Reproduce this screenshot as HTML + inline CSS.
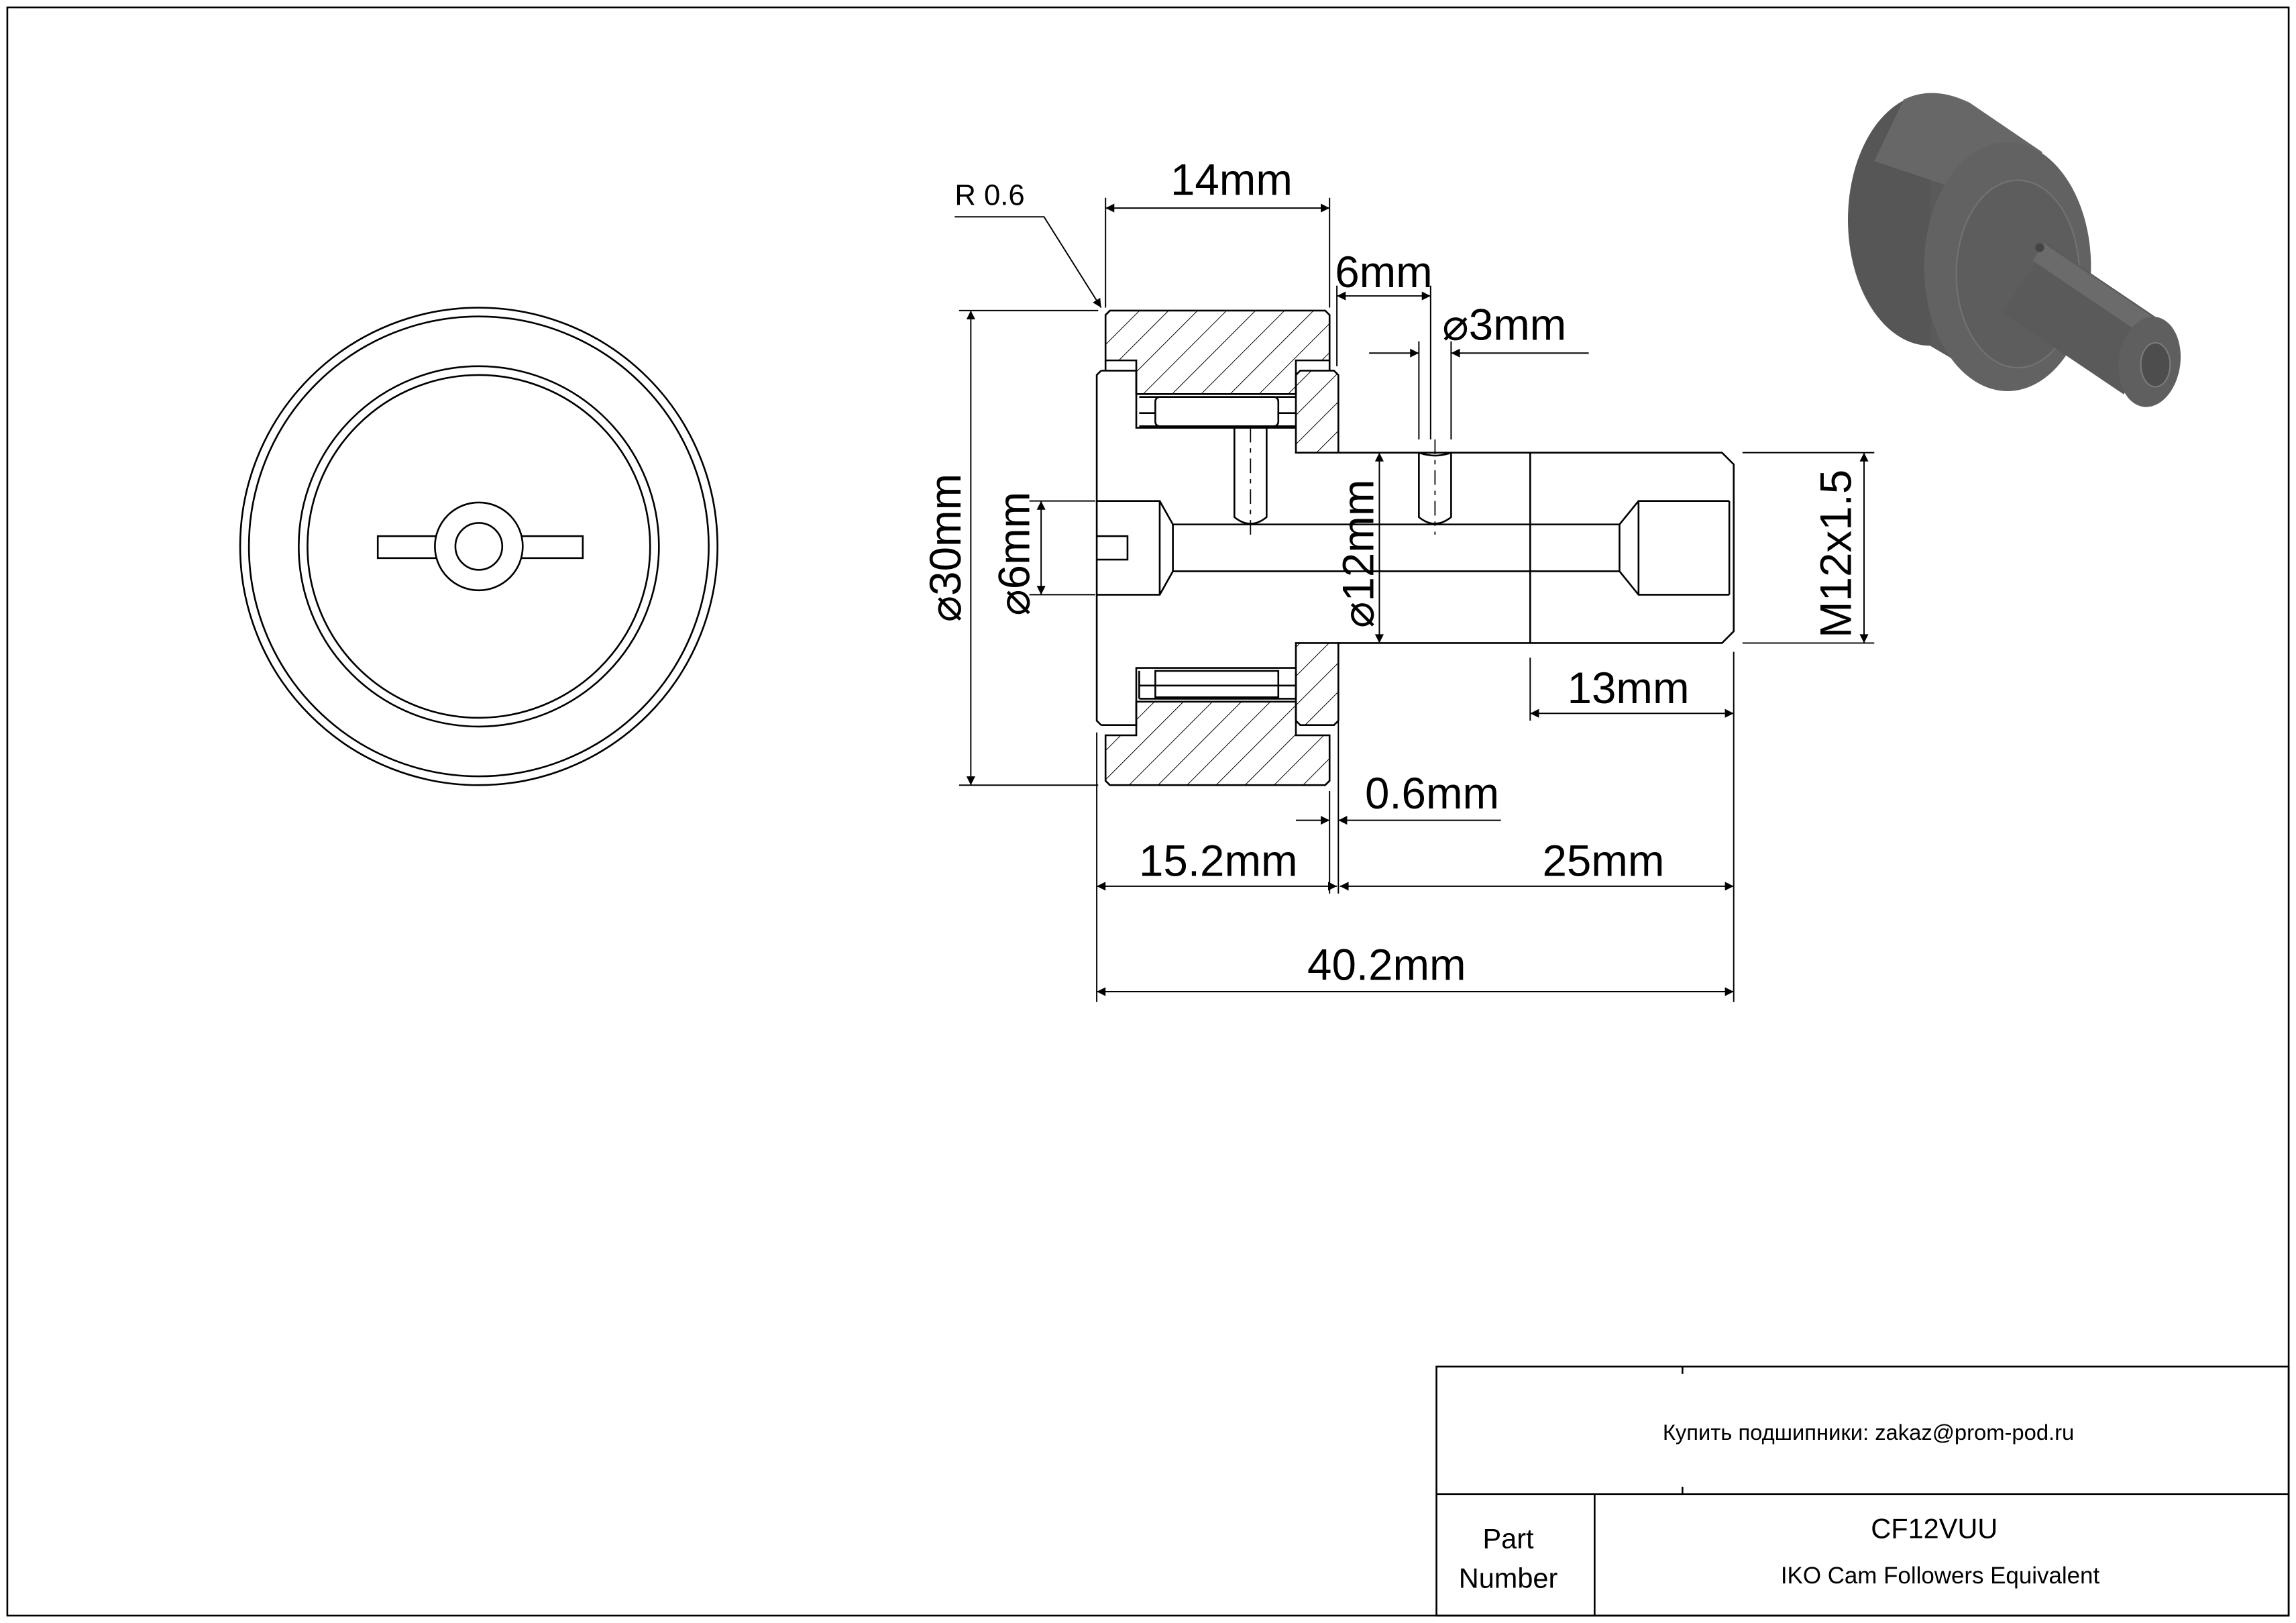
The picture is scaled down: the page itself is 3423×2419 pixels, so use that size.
<!DOCTYPE html>
<html><head><meta charset="utf-8"><style>
html,body{margin:0;padding:0;background:#fff}
svg{display:block}
text{font-family:"Liberation Sans",sans-serif;fill:#000}
</style></head><body>
<svg width="3423" height="2419" viewBox="0 0 1568 1108" xmlns="http://www.w3.org/2000/svg">
<defs>
<pattern id="h" patternUnits="userSpaceOnUse" width="14" height="14" patternTransform="rotate(45)">
<line x1="0" y1="0" x2="0" y2="14" stroke="#000" stroke-width="0.9"/>
</pattern>
<marker id="a" viewBox="0 0 10 10" refX="10" refY="5" markerWidth="14" markerHeight="6" markerUnits="userSpaceOnUse" orient="auto-start-reverse">
<path d="M0,0 L10,5 L0,10 z" fill="#000"/>
</marker>
</defs>
<g fill="none" stroke="#000" stroke-width="1.2">
<rect x="5" y="5" width="1558" height="1098"/>
<rect x="981" y="933" width="582" height="170"/>
<line x1="981" y1="1020" x2="1563" y2="1020"/>
<line x1="1089" y1="1020" x2="1089" y2="1103"/>
<line x1="1149" y1="933" x2="1149" y2="938"/>
<line x1="1149" y1="1015" x2="1149" y2="1020"/>

<circle cx="327" cy="373" r="163"/>
<circle cx="327" cy="373" r="157"/>
<circle cx="327" cy="373" r="123"/>
<circle cx="327" cy="373" r="117"/>
<path d="M298,366 L258,366 L258,381 L298,381 M356,366 L398,366 L398,381 L356,381"/>
<circle cx="327" cy="373" r="30"/>
<circle cx="327" cy="373" r="16"/>
</g>

<g stroke="#000" stroke-width="1.2">
<path d="M758,212 L905,212 L908,215 L908,246 L885,246 L885,269 L776,269 L776,246 L755,246 L755,215 Z" fill="url(#h)"/>
<path d="M755,246 L755,253 M908,246 L908,253" fill="none"/>
<path d="M758,536 L905,536 L908,533 L908,502 L885,502 L885,479 L776,479 L776,502 L755,502 L755,533 Z" fill="url(#h)"/>
<path d="M888,253 L911,253 L914,256 L914,309 L885,309 L885,256 Z" fill="url(#h)"/>
<path d="M888,495 L911,495 L914,492 L914,439 L885,439 L885,492 Z" fill="url(#h)"/>
</g>
<g fill="none" stroke="#000" stroke-width="1.2">
<path d="M752,253 L776,253 L776,292 L885,292 M776,292 L776,269"/>
<path d="M752,495 L776,495 L776,456 L885,456"/>
<path d="M752,253 L749,256 L749,492 L752,495"/>
<path d="M914,309 L1176,309 L1184,317 L1184,431 L1176,439 L914,439"/>
<line x1="1045" y1="309" x2="1045" y2="439"/>
<rect x="789" y="271" width="84" height="20" rx="3"/>
<path d="M778,271 L885,271 M778,282 L789,282 M873,282 L885,282 M778,291 L885,291"/>
<rect x="789" y="458" width="84" height="18" rx="0"/>
<path d="M778,468 L885,468 M778,458 L778,477 M885,458 L885,477 M778,477 L885,477"/>
<path d="M749,342 L792,342 L801,358 L1106,358 L1119,342 L1181,342"/>
<path d="M749,406 L792,406 L801,390 L1106,390 L1119,406 L1181,406"/>
<path d="M801,358 L801,390 M1106,358 L1106,390 M1119,342 L1119,406 M1181,342 L1181,406 M792,342 L792,406"/>
<path d="M749,366 L770,366 L770,382 L749,382"/>
<path d="M843,292 L843,353 Q854,362 865,353 L865,292"/>
<line x1="854" y1="292" x2="854" y2="365" stroke-dasharray="10,4,3,4" stroke-width="0.8"/>
<path d="M969,309 L969,353 Q980,362 991,353 L991,309 M969,309 Q980,313 991,309"/>
<line x1="980" y1="300" x2="980" y2="365" stroke-dasharray="10,4,3,4" stroke-width="0.8"/>
</g>

<g fill="none" stroke="#000" stroke-width="0.9">
<line x1="755" y1="135" x2="755" y2="210"/><line x1="908" y1="135" x2="908" y2="210"/>
<line x1="755" y1="142" x2="908" y2="142" marker-start="url(#a)" marker-end="url(#a)"/>
<path d="M652,148 L713,148 L752,210" marker-end="url(#a)"/>
<line x1="913" y1="195" x2="913" y2="250"/><line x1="977" y1="195" x2="977" y2="300"/>
<line x1="913" y1="202" x2="977" y2="202" marker-start="url(#a)" marker-end="url(#a)"/>
<line x1="969" y1="233" x2="969" y2="300"/><line x1="991" y1="233" x2="991" y2="300"/>
<line x1="935" y1="241" x2="969" y2="241" marker-end="url(#a)"/>
<line x1="1085" y1="241" x2="991" y2="241" marker-end="url(#a)"/>
<line x1="655" y1="212" x2="750" y2="212"/><line x1="655" y1="536" x2="750" y2="536"/>
<line x1="663" y1="212" x2="663" y2="536" marker-start="url(#a)" marker-end="url(#a)"/>
<line x1="703" y1="342" x2="748" y2="342"/><line x1="703" y1="406" x2="748" y2="406"/>
<line x1="711" y1="342" x2="711" y2="406" marker-start="url(#a)" marker-end="url(#a)"/>
<line x1="942" y1="309" x2="942" y2="439" marker-start="url(#a)" marker-end="url(#a)"/>
<line x1="1190" y1="309" x2="1280" y2="309"/><line x1="1190" y1="439" x2="1280" y2="439"/>
<line x1="1273" y1="309" x2="1273" y2="439" marker-start="url(#a)" marker-end="url(#a)"/>
<line x1="1045" y1="449" x2="1045" y2="492"/>
<line x1="1184" y1="445" x2="1184" y2="684"/>
<line x1="1045" y1="487" x2="1184" y2="487" marker-start="url(#a)" marker-end="url(#a)"/>
<line x1="908" y1="540" x2="908" y2="610"/><line x1="914" y1="445" x2="914" y2="610"/>
<line x1="885" y1="560" x2="908" y2="560" marker-end="url(#a)"/>
<line x1="1025" y1="560" x2="914" y2="560" marker-end="url(#a)"/>
<line x1="749" y1="500" x2="749" y2="684"/>
<line x1="749" y1="605" x2="913" y2="605" marker-start="url(#a)" marker-end="url(#a)"/>
<line x1="915" y1="605" x2="1184" y2="605" marker-start="url(#a)" marker-end="url(#a)"/>
<line x1="749" y1="677" x2="1184" y2="677" marker-start="url(#a)" marker-end="url(#a)"/>
</g>

<g font-size="30">
<text x="841" y="133" text-anchor="middle">14mm</text>
<text x="652" y="140" font-size="20">R 0.6</text>
<text x="945" y="196" text-anchor="middle">6mm</text>
<text x="985" y="232">⌀3mm</text>
<text transform="translate(656,374) rotate(-90)" text-anchor="middle">⌀30mm</text>
<text transform="translate(703,378) rotate(-90)" text-anchor="middle">⌀6mm</text>
<text transform="translate(938,378) rotate(-90)" text-anchor="middle">⌀12mm</text>
<text transform="translate(1264,378) rotate(-90)" text-anchor="middle">M12x1.5</text>
<text x="1112" y="480" text-anchor="middle">13mm</text>
<text x="978" y="552" text-anchor="middle">0.6mm</text>
<text x="832" y="598" text-anchor="middle">15.2mm</text>
<text x="1095" y="598" text-anchor="middle">25mm</text>
<text x="947" y="669" text-anchor="middle">40.2mm</text>
</g>

<text x="1276" y="983" font-size="15" text-anchor="middle" font-family="Liberation Sans, DejaVu Sans, sans-serif">Купить подшипники: zakaz@prom-pod.ru</text>
<text x="1030" y="1057" font-size="19" text-anchor="middle">Part</text>
<text x="1030" y="1084" font-size="19" text-anchor="middle">Number</text>
<text x="1321" y="1050" font-size="19" text-anchor="middle">CF12VUU</text>
<text x="1325" y="1081" font-size="16" text-anchor="middle">IKO Cam Followers Equivalent</text>

<!-- 3D render -->
<g>
<ellipse cx="1318" cy="150" rx="56" ry="86" fill="#565656"/>
<path d="M1318,64 L1371,97 L1371,267 L1318,236 Z" fill="#5a5a5a"/>
<path d="M1300,68 Q1320,58 1345,70 L1395,104 L1340,130 L1280,110 Z" fill="#676767"/>
<ellipse cx="1371" cy="182" rx="57" ry="85" fill="#626262"/>
<ellipse cx="1378" cy="187" rx="42" ry="64" fill="#5d5d5d" stroke="#727272" stroke-width="1"/>
<line x1="1383" y1="190" x2="1466" y2="246" stroke="#5a5a5a" stroke-width="56"/>
<line x1="1392" y1="172" x2="1472" y2="226" stroke="#6b6b6b" stroke-width="14"/>
<ellipse cx="1468" cy="247" rx="21" ry="31" fill="#5f5f5f" transform="rotate(8 1468 247)"/>
<ellipse cx="1472" cy="249" rx="10" ry="15" fill="#4d4d4d" stroke="#7a7a7a" stroke-width="1"/>
<circle cx="1393" cy="169" r="3" fill="#444"/>
</g>
</svg>
</body></html>
